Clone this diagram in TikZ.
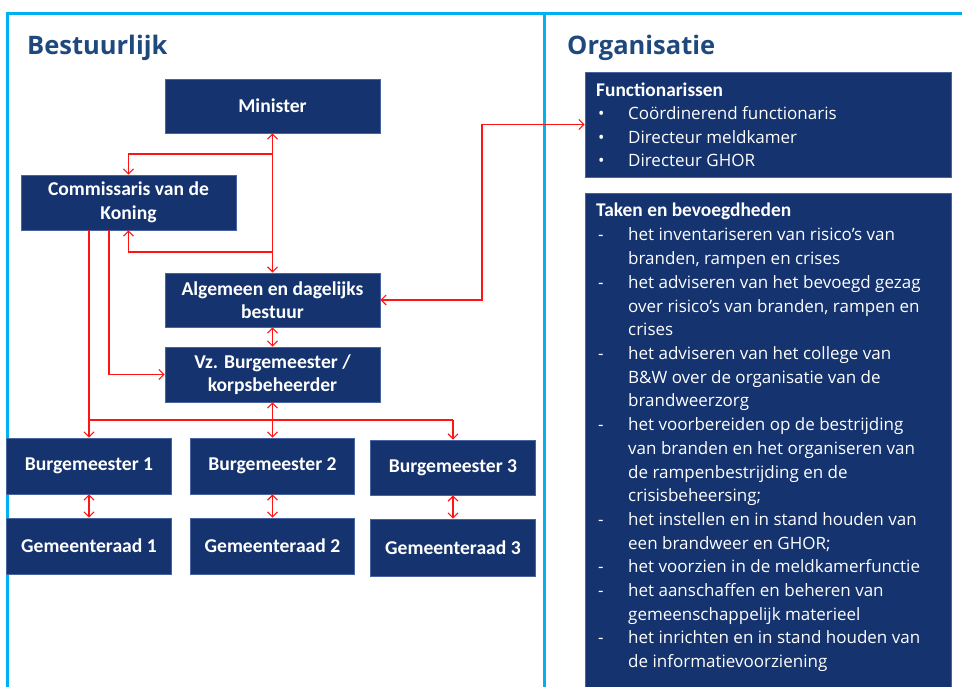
\documentclass[tikz,border=0pt]{standalone}
\usepackage{fontspec}
\setmainfont{Open Sans}
\newfontfamily\boxfont{Carlito}
\usetikzlibrary{arrows.meta,calc}
\definecolor{navy}{RGB}{20,51,111}
\definecolor{navyedge}{RGB}{70,100,160}
\definecolor{frameblue}{RGB}{0,176,240}
\definecolor{titleblue}{RGB}{31,73,125}
\definecolor{arrowred}{RGB}{255,20,20}
\begin{document}
\begin{tikzpicture}[x=1pt,y=1pt,
  orgbox/.style={draw=navyedge, line width=0.6pt, fill=navy, text=white, align=center,
    font=\boxfont\bfseries\fontsize{19.6}{23.5}\selectfont, inner sep=0pt},
  infobox/.style={draw=navyedge, line width=0.6pt, fill=navy, inner sep=0pt},
  headtxt/.style={anchor=base west, text=white, inner sep=0pt,
    font=\boxfont\bfseries\fontsize{19.4}{23.5}\selectfont},
  itemtxt/.style={anchor=base west, text=white, inner sep=0pt,
    font=\fontsize{17}{23.7}\selectfont},
  titletxt/.style={anchor=base west, text=titleblue, inner sep=0pt,
    font=\bfseries\fontsize{25.5}{30}\selectfont},
  link/.style={draw=arrowred, line width=1.2pt},
  arr/.style={link, -{Straight Barb[length=5pt,width=10pt]}},
  dbl/.style={link, {Straight Barb[length=5pt,width=10pt]}-{Straight Barb[length=5pt,width=10pt]}},
  framel/.style={draw=frameblue, line width=3pt}]
\useasboundingbox (0,0) rectangle (962,-687);
\fill[white] (0,0) rectangle (962,-687);
% frame
\draw[framel] (7.5,-687) -- (7.5,-14) -- (962,-14);
\draw[framel] (544,-14) -- (544,-687);
% titles
\node[titletxt] (tbest) at (27,-55) {Bestuurlijk};
\node[titletxt] (torg) at (567,-55) {Organisatie};
% left boxes
\node[orgbox, minimum width=215, minimum height=54] (min) at (272.5,-106) {Minister};
\node[orgbox, minimum width=215, minimum height=55] (comm) at (128.5,-202.5) {Commissaris van de\\Koning};
\node[orgbox, minimum width=215, minimum height=54] (alg) at (272.5,-300) {Algemeen en dagelijks\\bestuur};
\node[orgbox, minimum width=215, minimum height=55] (vz) at (272.5,-374.5) {Vz. Burgemeester /\\korpsbeheerder};
\node[orgbox, minimum width=165, minimum height=56] (b1) at (89,-466) {Burgemeester 1};
\node[orgbox, minimum width=164, minimum height=56] (b2) at (272.5,-466) {Burgemeester 2};
\node[orgbox, minimum width=165, minimum height=55] (b3) at (453,-467.5) {Burgemeester 3};
\node[orgbox, minimum width=165, minimum height=56] (g1) at (89,-546) {Gemeenteraad 1};
\node[orgbox, minimum width=164, minimum height=56] (g2) at (272.5,-546) {Gemeenteraad 2};
\node[orgbox, minimum width=165, minimum height=57] (g3) at (453,-547.5) {Gemeenteraad 3};
% right boxes
\node[infobox, minimum width=366, minimum height=105] (func) at (768,-124.5) {};
\node[infobox, minimum width=366, minimum height=494] (taken) at (768,-440) {};
\node[headtxt] (fhead) at (596,-97) {Functionarissen};
\foreach [count=\i] \t in {Coördinerend functionaris, Directeur meldkamer, Directeur GHOR} {
  \node[itemtxt] (fb\i) at (598,{-120-(\i-1)*23.5}) {•};
  \node[itemtxt] (ft\i) at (628,{-120-(\i-1)*23.5}) {\t};
}
\node[headtxt] (thead) at (596,-217) {Taken en bevoegdheden};
\foreach [count=\i] \t in {
  {het inventariseren van risico’s van},
  {branden, rampen en crises},
  {het adviseren van het bevoegd gezag},
  {over risico’s van branden, rampen en},
  {crises},
  {het adviseren van het college van},
  {B\&W over de organisatie van de},
  {brandweerzorg},
  {het voorbereiden op de bestrijding},
  {van branden en het organiseren van},
  {de rampenbestrijding en de},
  {crisisbeheersing;},
  {het instellen en in stand houden van},
  {een brandweer en GHOR;},
  {het voorzien in de meldkamerfunctie},
  {het aanschaffen en beheren van},
  {gemeenschappelijk materieel},
  {het inrichten en in stand houden van},
  {de informatievoorziening}} {
  \node[itemtxt] (tl\i) at (628,{-241-(\i-1)*23.7}) {\t};
}
\foreach \i in {1,3,6,9,13,15,16,18} {
  \node[itemtxt] (td\i) at (598,{-241-(\i-1)*23.7}) {-};
}
% connectors
\coordinate (j1) at (272.5,-154);
\coordinate (j2) at (272.5,-252);
\draw[dbl] (min.south) -- (alg.north);
\draw[arr] (j1) -| (comm.north);
\draw[arr] (j2) -| (comm.south);
\coordinate (ca) at (89,-230);
\coordinate (bus1) at (89,-420);
\coordinate (bus3) at (453,-420);
\draw[link] (ca) -- (bus1) -- (bus3);
\draw[arr] (bus1) -- (b1.north);
\draw[arr] (bus3) -- (b3.north);
\draw[dbl] (vz.south) -- (b2.north);
\coordinate (cb) at (109,-230);
\draw[arr] (cb) |- (vz.west);
\draw[dbl] (alg.south) -- (vz.north);
\coordinate (k1) at (482,-124.5);
\draw[dbl] (alg.east) -| (k1) -- (func.west);
\draw[dbl] (b1.south) -- (g1.north);
\draw[dbl] (b2.south) -- (g2.north);
\draw[dbl] (b3.south) -- (g3.north);
\end{tikzpicture}
\end{document}
